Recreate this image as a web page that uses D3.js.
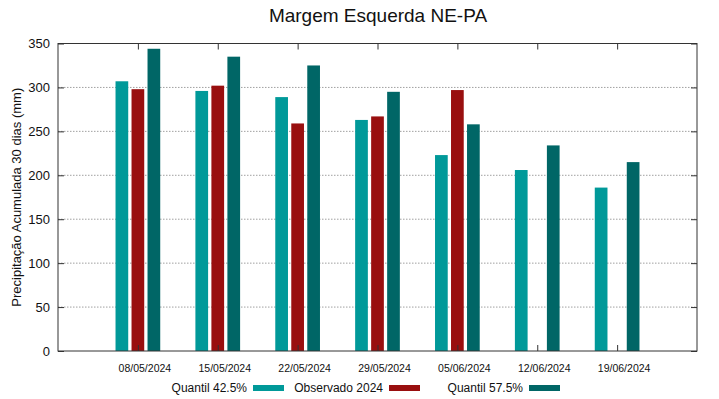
<!DOCTYPE html>
<html>
<head>
<meta charset="utf-8">
<script src="https://cdn.jsdelivr.net/npm/d3@7"></script>
<style>
  body { margin: 0; background: #fff; }
  svg { font-family: "Liberation Sans", Arial, sans-serif; }
</style>
</head>
<body>
<svg id="chart" width="719" height="399"></svg>
<script>
// Chart data
const dates = ["08/05/2024", "15/05/2024", "22/05/2024", "29/05/2024", "05/06/2024", "12/06/2024", "19/06/2024"];
const quantil425 = [307, 296, 289, 263, 223, 206, 186];
const observado2024 = [298, 302, 259, 267, 297, null, null];
const quantil575 = [344, 335, 325, 295, 258, 234, 215];
const yTicks = [0, 50, 100, 150, 200, 250, 300, 350];

const seriesNames = ["Quantil 42.5%", "Observado 2024", "Quantil 57.5%"];
const seriesValues = [quantil425, observado2024, quantil575];
const colors = ["#009999", "#990f0f", "#006666"];

const svg = d3.select("#chart");
const margin = { top: 43.5, right: 22, bottom: 48, left: 58 };
const width = +svg.attr("width");
const height = +svg.attr("height");

// x in category-index units, one empty slot either side
const xScale = d3.scaleLinear()
    .domain([-1, dates.length])
    .range([margin.left, width - margin.right]);

const yScale = d3.scaleLinear()
    .domain([0, 350])
    .range([height - margin.bottom, margin.top]);

const barWidth = 12.7;
const barStep = 16;

// grid lines
svg.append("g")
    .selectAll("line")
    .data(yTicks.slice(1, -1))
    .enter()
    .append("line")
    .attr("x1", margin.left)
    .attr("x2", width - margin.right)
    .attr("y1", d => yScale(d))
    .attr("y2", d => yScale(d))
    .attr("stroke", "#a0a0a0")
    .attr("stroke-width", 1)
    .attr("stroke-dasharray", "1.5,1.5");

// bars
seriesValues.forEach((values, s) => {
    svg.append("g")
        .selectAll("rect")
        .data(values.map((v, i) => ({ v, i })).filter(d => d.v !== null))
        .enter()
        .append("rect")
        .attr("x", d => xScale(d.i) + (s - 1) * barStep - barWidth / 2)
        .attr("y", d => yScale(d.v))
        .attr("width", barWidth)
        .attr("height", d => yScale(0) - yScale(d.v))
        .attr("fill", colors[s]);
});

// y axis labels (left)
const yAxis = d3.axisLeft(yScale).tickValues(yTicks).tickSize(-6).tickPadding(8);
const gy = svg.append("g")
    .attr("transform", `translate(${margin.left},0)`)
    .call(yAxis);
gy.select(".domain").remove();
gy.selectAll("line").attr("stroke", "#333");
gy.selectAll("text").attr("font-size", 13).attr("fill", "#111")
    .attr("font-family", "Liberation Sans, Arial, sans-serif");

// y ticks on the right, inward
const gyr = svg.append("g")
    .attr("transform", `translate(${width - margin.right},0)`)
    .call(d3.axisRight(yScale).tickValues(yTicks).tickSize(-6).tickFormat(""));
gyr.select(".domain").remove();
gyr.selectAll("line").attr("stroke", "#333");

// x axis bottom, inward ticks
const xAxis = d3.axisBottom(xScale)
    .tickValues(d3.range(dates.length))
    .tickFormat(i => dates[i])
    .tickSize(-6)
    .tickPadding(14);
const gx = svg.append("g")
    .attr("transform", `translate(0,${height - margin.bottom})`)
    .call(xAxis);
gx.select(".domain").remove();
gx.selectAll("line").attr("stroke", "#333");
gx.selectAll("text").attr("font-size", 10.5).attr("fill", "#111")
    .attr("dx", 6.5)
    .attr("font-family", "Liberation Sans, Arial, sans-serif");

// x ticks on top, inward
const gxt = svg.append("g")
    .attr("transform", `translate(0,${margin.top})`)
    .call(d3.axisTop(xScale).tickValues(d3.range(dates.length)).tickSize(-6).tickFormat(""));
gxt.select(".domain").remove();
gxt.selectAll("line").attr("stroke", "#333");

// frame
svg.append("rect")
    .attr("x", margin.left)
    .attr("y", margin.top)
    .attr("width", width - margin.left - margin.right)
    .attr("height", height - margin.top - margin.bottom)
    .attr("fill", "none")
    .attr("stroke", "#333")
    .attr("stroke-width", 1);

// title
svg.append("text")
    .attr("x", 378)
    .attr("y", 22)
    .attr("text-anchor", "middle")
    .attr("font-size", 19)
    .attr("fill", "#111")
    .text("Margem Esquerda NE-PA");

// y axis title
svg.append("text")
    .attr("transform", `translate(21,${(margin.top + height - margin.bottom) / 2}) rotate(-90)`)
    .attr("text-anchor", "middle")
    .attr("font-size", 13)
    .attr("fill", "#111")
    .text("Precipitação Acumulada 30 dias (mm)");

// legend: text right-aligned before each swatch
const legendX = [247, 383, 523];
const legend = svg.append("g");
seriesNames.forEach((name, s) => {
    legend.append("text")
        .attr("x", legendX[s])
        .attr("y", 392)
        .attr("text-anchor", "end")
        .attr("font-size", 12)
        .attr("fill", "#111")
        .text(name);
    legend.append("rect")
        .attr("x", legendX[s] + 6)
        .attr("y", 385)
        .attr("width", 31)
        .attr("height", 6)
        .attr("fill", colors[s]);
});
</script>
</body>
</html>
